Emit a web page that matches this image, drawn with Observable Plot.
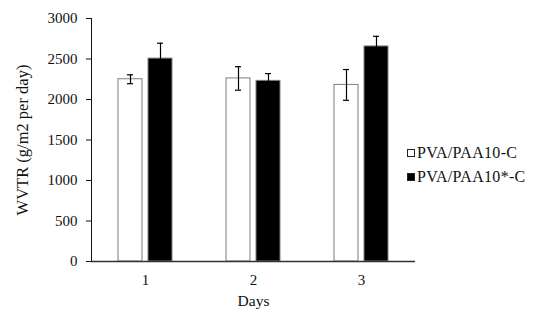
<!DOCTYPE html>
<html><head><meta charset="utf-8">
<script src="https://cdn.jsdelivr.net/npm/d3@7"></script>
<script src="https://cdn.jsdelivr.net/npm/@observablehq/plot@0.6"></script>
<style>
body{margin:0;background:#fff;}
#wrap{position:relative;width:533px;height:321px;font-family:"Liberation Serif",serif;}
#wrap svg text{font-size:15px !important;font-family:"Liberation Serif",serif !important;fill:#111;}
#wrap svg g[aria-label="y-axis label"] text{font-size:16.5px !important;}
#wrap svg g[aria-label="fx-axis label"] text{font-size:15.5px !important;}
#legend{position:absolute;left:407px;top:141px;font-size:16px;letter-spacing:0.3px;line-height:24px;color:#111;}
#legend div{white-space:nowrap;}
.sw{display:inline-block;width:6px;height:6px;border:1px solid #222;margin-right:2px;vertical-align:1px;}
</style></head><body><div id="wrap"></div>
<script>
const days = [1, 2, 3];
const series = ["PVA/PAA10-C", "PVA/PAA10*-C"];
const valuesC = [2250, 2260, 2180];
const errorsC = [55, 145, 190];
const valuesStar = [2505, 2230, 2655];
const errorsStar = [190, 90, 125];
const yTicks = [0, 500, 1000, 1500, 2000, 2500, 3000];
const colors = ["white", "black"];

const rows = [];
days.forEach((d, i) => {
  rows.push({day: d, series: series[0], value: valuesC[i], err: errorsC[i]});
  rows.push({day: d, series: series[1], value: valuesStar[i], err: errorsStar[i]});
});

const chart = Plot.plot({
  width: 533, height: 321,
  marginLeft: 90, marginRight: 118, marginTop: 18, marginBottom: 60,
  style: {fontFamily: "Liberation Serif", fontSize: "15px", color: "#111", background: "white", overflow: "visible"},
  fx: {domain: days, padding: 0, label: "Days", tickSize: 0, tickPadding: 13, labelAnchor: "center", labelOffset: 44},
  x: {domain: series, paddingInner: 0.2, paddingOuter: 0.9, axis: null},
  y: {domain: [0, 3000], ticks: yTicks, tickFormat: d3.format("d"), tickSize: 5, tickPadding: 9, label: "WVTR (g/m2 per day)", labelArrow: "none", labelAnchor: "center", labelOffset: 75, line: true},
  color: {domain: series, range: colors},
  marks: [
    Plot.barY(rows, {fx: "day", x: "series", y: "value", fill: "series", stroke: "#7f7f7f", strokeWidth: 1}),
    Plot.ruleX(rows, {fx: "day", x: "series", y1: d => d.value - d.err, y2: d => d.value + d.err, stroke: "black", strokeWidth: 1.2}),
    Plot.tickY(rows, {fx: "day", x: "series", y: d => d.value - d.err, stroke: "black", strokeWidth: 1.2, insetLeft: 9, insetRight: 9}),
    Plot.tickY(rows, {fx: "day", x: "series", y: d => d.value + d.err, stroke: "black", strokeWidth: 1.2, insetLeft: 9, insetRight: 9}),
    Plot.ruleY([0], {stroke: "#333", strokeWidth: 1.5})
  ]
});
const wrap = document.getElementById("wrap");
wrap.appendChild(chart);

const legend = document.createElement("div");
legend.id = "legend";
series.forEach((s, i) => {
  const row = document.createElement("div");
  const sw = document.createElement("span");
  sw.className = "sw";
  sw.style.background = colors[i];
  row.appendChild(sw);
  row.appendChild(document.createTextNode(s));
  legend.appendChild(row);
});
wrap.appendChild(legend);
</script>
</body></html>
